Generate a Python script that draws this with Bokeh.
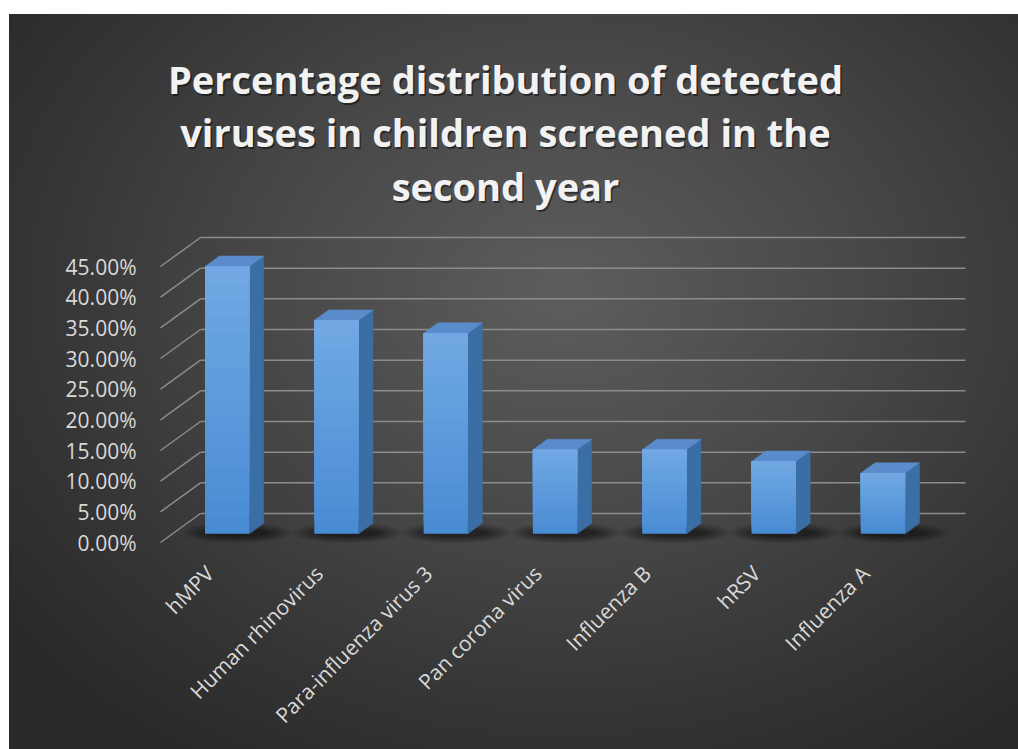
import numpy as np
from bokeh.plotting import figure
from bokeh.models import Range1d
from bokeh.core.properties import value
from bokeh.embed import file_html
from bokeh.resources import INLINE

# ---------------- data ----------------
categories = ["hMPV", "Human rhinovirus", "Para-influenza virus 3",
              "Pan corona virus", "Influenza B", "hRSV", "Influenza A"]
percentages = [43.6, 34.8, 32.7, 13.7, 13.7, 11.8, 9.9]
tick_values = [0, 5, 10, 15, 20, 25, 30, 35, 40, 45]
tick_labels = ["0.00%", "5.00%", "10.00%", "15.00%", "20.00%",
               "25.00%", "30.00%", "35.00%", "40.00%", "45.00%"]
title_lines = ["Percentage distribution of detected",
               "viruses in children screened in the",
               "second year"]

# ---------------- geometry / style ----------------
W, H = 1009, 735
PX_CAT = 109.3      # pixels per category
PX_PCT = 6.133      # pixels per percent
X0_PAGE, Y0_PAGE = 160, 542
OFF_X, OFF_Y = 9, 14
DX = 40 / PX_CAT    # depth offset (x, data units)
DY = 29 / PX_PCT    # depth offset (y, data units)
D0, D1 = 0.30, 0.66  # bar depth span
BW = 0.405

x_start = (OFF_X - X0_PAGE) / PX_CAT
x_end = (OFF_X + W - X0_PAGE) / PX_CAT
y_start = (Y0_PAGE - (OFF_Y + H)) / PX_PCT
y_end = (Y0_PAGE - OFF_Y) / PX_PCT

FONT = "Open Sans"
GRID = "#8c8c8c"
TXT = "#d9d9d9"

p = figure(width=W, height=H, x_range=Range1d(x_start, x_end),
           y_range=Range1d(y_start, y_end), x_axis_type=None, y_axis_type=None,
           output_backend="svg", toolbar_location=None, min_border=0)
p.grid.visible = False
p.outline_line_color = None
p.background_fill_alpha = 0
p.border_fill_alpha = 0
p.styles = {
    "margin-left": f"{OFF_X}px", "margin-top": f"{OFF_Y}px",
    "background": "radial-gradient(ellipse 70% 75% at 55% 38%, #5d5d5d 0%, #494949 40%, #353535 75%, #292929 100%)",
}

n = len(categories)

# ---------------- walls ----------------
xs_d, ys_d, xs_b, ys_b = [], [], [], []
for v in tick_values:
    xs_d.append([0, DX]); ys_d.append([v, v + DY])
    xs_b.append([DX, n + DX]); ys_b.append([v + DY, v + DY])
p.multi_line(xs_d, ys_d, line_color=GRID, line_width=1.5)
p.multi_line(xs_b, ys_b, line_color=GRID, line_width=1.5)

# ---------------- shadows (soft) ----------------
for wf, hf, a in [(1.0, 3.4, 0.08), (0.9, 2.9, 0.10), (0.8, 2.4, 0.12),
                  (0.7, 1.9, 0.14), (0.6, 1.4, 0.16)]:
    p.ellipse(x=[i + 0.5 + 0.5 * (D0 + D1) * DX + 0.03 for i in range(n)],
              y=[0.5 * (D0 + D1) * DY - 0.7] * n, width=wf, height=hf,
              fill_color="black", fill_alpha=a, line_color=None)

# ---------------- bars ----------------
ddx, ddy = (D1 - D0) * DX, (D1 - D0) * DY
top_c = np.array([0x72, 0xa9, 0xe3])
bot_c = np.array([0x48, 0x8b, 0xd4])
NS = 16
q_l, q_r, q_b, q_t, q_c = [], [], [], [], []
side_x, side_y, top_x, top_y = [], [], [], []
for i, v in enumerate(percentages):
    xl = i + 0.5 - BW / 2 + D0 * DX
    xr = xl + BW
    y0 = D0 * DY
    for k in range(NS):
        c = bot_c + (top_c - bot_c) * (k + 0.5) / NS
        q_l.append(xl); q_r.append(xr)
        q_b.append(y0 + v * k / NS); q_t.append(y0 + v)
        q_c.append("#%02x%02x%02x" % tuple(int(round(t)) for t in c))
    side_x.append([xr, xr + ddx, xr + ddx, xr])
    side_y.append([y0, y0 + ddy, y0 + v + ddy, y0 + v])
    top_x.append([xl, xr, xr + ddx, xl + ddx])
    top_y.append([y0 + v, y0 + v, y0 + v + ddy, y0 + v + ddy])

p.patches(side_x, side_y, fill_color="#3c6ea6", line_color="#3c6ea6", line_width=0.5)
p.patches(top_x, top_y, fill_color="#5a8ccb", line_color="#5a8ccb", line_width=0.5)
p.quad(left=q_l, right=q_r, bottom=q_b, top=q_t, fill_color=q_c, line_color=None)

# ---------------- y tick labels ----------------
p.text(x=[(136 - X0_PAGE) / PX_CAT] * len(tick_values), y=tick_values, text=tick_labels,
       text_align="right", text_baseline="middle", text_color=TXT,
       text_font=value(FONT), text_font_size="21px")

# ---------------- category labels ----------------
p.text(x=[i + 0.5 - 0.05 for i in range(n)], y=[-4.4] * n, text=categories,
       angle=np.pi / 4, text_align="right", text_baseline="middle", text_color=TXT,
       text_font=value(FONT), text_font_size="21px")

# ---------------- title ----------------
tx = (505 - X0_PAGE) / PX_CAT
ty = [(Y0_PAGE - b) / PX_PCT for b in (78, 131, 185)]
p.text(x=[tx] * 3, y=ty, text=title_lines, text_align="center", text_baseline="alphabetic",
       text_color="black", text_alpha=0.45, x_offset=1.5, y_offset=2,
       text_font=value(FONT), text_font_size="38px", text_font_style="bold")
p.text(x=[tx] * 3, y=ty, text=title_lines, text_align="center", text_baseline="alphabetic",
       text_color="#f2f2f2", text_font=value(FONT), text_font_size="38px",
       text_font_style="bold")

open("out.html", "w").write(file_html(p, INLINE))
